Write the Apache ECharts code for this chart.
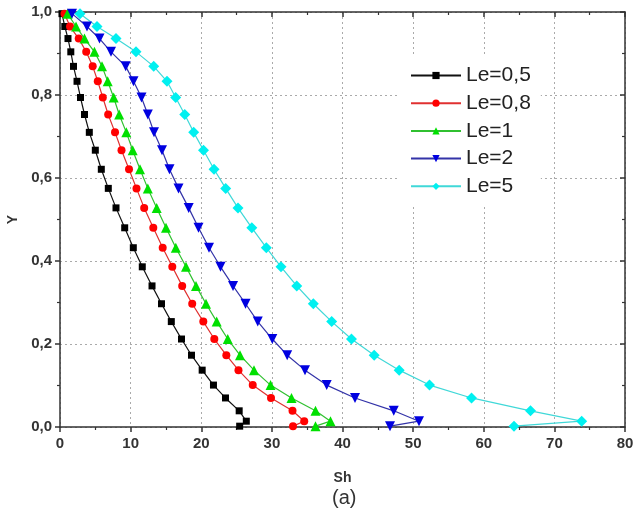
<!DOCTYPE html>
<html>
<head>
<meta charset="utf-8">
<script src="https://cdn.jsdelivr.net/npm/echarts@6/dist/echarts.min.js"></script>
<style>
  html,body{margin:0;padding:0;background:#fff;}
  #chart{width:634px;height:519px;}
</style>
</head>
<body>
<div id="chart"></div>
<script>
// Y positions shared by every curve
const yLevels = [0.996, 0.965, 0.936, 0.904, 0.869, 0.833, 0.794, 0.753, 0.710, 0.667,
  0.621, 0.575, 0.528, 0.480, 0.432, 0.386, 0.340, 0.297, 0.254, 0.212,
  0.173, 0.137, 0.101, 0.070, 0.039, 0.014, 0.002];

// Sh values per Le
const shLe05 = [0.28, 0.68, 1.13, 1.53, 1.91, 2.41, 2.90, 3.47, 4.15, 5.00,
  5.85, 6.84, 7.93, 9.16, 10.38, 11.65, 13.03, 14.37, 15.76, 17.20,
  18.62, 20.13, 21.73, 23.43, 25.37, 26.38, 25.44];
const shLe08 = [0.64, 1.42, 2.65, 3.71, 4.63, 5.35, 6.06, 6.82, 7.79, 8.71,
  9.77, 10.83, 11.92, 13.21, 14.54, 15.90, 17.30, 18.72, 20.29, 21.85,
  23.55, 25.27, 27.29, 29.88, 32.92, 34.58, 32.99];
const shLe1 = [1.06, 2.27, 3.47, 4.88, 5.95, 6.75, 7.60, 8.38, 9.39, 10.29,
  11.33, 12.43, 13.69, 15.01, 16.40, 17.84, 19.26, 20.67, 22.19, 23.75,
  25.49, 27.47, 29.81, 32.78, 36.18, 38.30, 36.18];
const shLe2 = [1.70, 3.82, 5.59, 7.22, 9.30, 10.41, 11.54, 12.43, 13.31, 14.44,
  15.50, 16.78, 18.22, 19.61, 21.10, 22.73, 24.50, 26.27, 28.00, 30.06,
  32.17, 34.69, 37.76, 41.77, 47.26, 50.83, 46.73];
const shLe5 = [2.83, 5.24, 7.93, 10.76, 13.27, 15.15, 16.38, 17.66, 18.93, 20.32,
  21.81, 23.46, 25.20, 27.16, 29.21, 31.29, 33.52, 35.87, 38.47, 41.27,
  44.49, 48.03, 52.32, 58.27, 66.62, 73.87, 64.28];

const seriesNames = ['Le=0,5', 'Le=0,8', 'Le=1', 'Le=2', 'Le=5'];
const xTicks = [0, 10, 20, 30, 40, 50, 60, 70, 80];

function pairs(xs){
  var out = [];
  for (var i = 0; i < xs.length; i++) {
    out.push([xs[i], yLevels[i]]);
  }
  return out;
}

function makeSeries(name, xs, symbol, size, markColor, lineColor, rotate){
  return {
    name: name,
    type: 'line',
    data: pairs(xs),
    symbol: symbol,
    symbolSize: size,
    symbolRotate: rotate || 0,
    showAllSymbol: true,
    clip: false,
    itemStyle: { color: markColor, borderWidth: 0 },
    lineStyle: { color: lineColor, width: 1.2 },
    emphasis: { disabled: true }
  };
}

const chart = echarts.init(document.getElementById('chart'), null, { renderer: 'canvas' });

const tickFont = { color: '#333', fontWeight: 'bold', fontSize: 15, fontFamily: 'Liberation Sans, Arial, sans-serif' };
const axisLine = { show: true, onZero: false, lineStyle: { color: '#333', width: 1.5 } };
const gridLine = { show: true, lineStyle: { color: '#aaa', width: 1, type: [2, 3] } };

const option = {
  backgroundColor: '#fff',
  animation: false,
  grid: { left: 60, right: 9, top: 12, bottom: 92, containLabel: false, outerBoundsMode: 'none' },
  title: {
    text: '(a)',
    left: 327,
    top: 483,
    textStyle: { fontSize: 20, fontWeight: 'normal', color: '#333', fontFamily: 'Liberation Sans, Arial, sans-serif' }
  },
  legend: {
    orient: 'vertical',
    left: 400,
    top: 55,
    padding: [10, 10, 10, 10],
    backgroundColor: '#fff',
    itemWidth: 50,
    itemHeight: 9,
    itemGap: 6.7,
    data: seriesNames,
    textStyle: { fontSize: 21, lineHeight: 21, color: '#222', fontFamily: 'Liberation Sans, Arial, sans-serif' }
  },
  xAxis: [
    {
      type: 'value', position: 'bottom', min: 0, max: 80, interval: 10,
      name: 'Sh', nameLocation: 'middle', nameGap: 44,
      nameTextStyle: { fontSize: 14, fontWeight: 'bold', color: '#333', fontFamily: 'Liberation Sans, Arial, sans-serif' },
      axisLine: axisLine,
      axisTick: { show: true, inside: false, length: 5, lineStyle: { color: '#333', width: 1.5 } },
      minorTick: { show: true, splitNumber: 2, length: 3, lineStyle: { color: '#333', width: 1.2 } },
      axisLabel: Object.assign({ margin: 9, formatter: function(v){ return xTicks.indexOf(v) >= 0 ? String(v) : ''; } }, tickFont),
      splitLine: gridLine
    },
    {
      type: 'value', position: 'top', min: 0, max: 80, interval: 10,
      axisLine: axisLine,
      axisTick: { show: true, inside: true, length: 5, lineStyle: { color: '#333', width: 1.5 } },
      minorTick: { show: true, splitNumber: 2, length: 3, lineStyle: { color: '#333', width: 1.2 } },
      axisLabel: { show: false },
      splitLine: { show: false }
    }
  ],
  yAxis: [
    {
      type: 'value', position: 'left', min: 0, max: 1, interval: 0.2,
      name: 'Y', nameLocation: 'middle', nameGap: 40,
      nameTextStyle: { fontSize: 14, fontWeight: 'bold', color: '#333', fontFamily: 'Liberation Sans, Arial, sans-serif' },
      axisLine: axisLine,
      axisTick: { show: true, inside: false, length: 5, lineStyle: { color: '#333', width: 1.5 } },
      minorTick: { show: true, splitNumber: 2, length: 3, lineStyle: { color: '#333', width: 1.2 } },
      axisLabel: Object.assign({ margin: 8, formatter: function(v){ return v.toFixed(1).replace('.', ','); } }, tickFont),
      splitLine: gridLine
    },
    {
      type: 'value', position: 'right', min: 0, max: 1, interval: 0.2,
      axisLine: axisLine,
      axisTick: { show: true, inside: true, length: 5, lineStyle: { color: '#333', width: 1.5 } },
      minorTick: { show: true, splitNumber: 2, length: 3, lineStyle: { color: '#333', width: 1.2 } },
      axisLabel: { show: false },
      splitLine: { show: false }
    }
  ],
  series: [
    makeSeries(seriesNames[0], shLe05, 'rect', 7, '#000000', '#111111'),
    makeSeries(seriesNames[1], shLe08, 'circle', 8, '#ff0000', '#e03030'),
    makeSeries(seriesNames[2], shLe1, 'triangle', 10, '#00e000', '#30c030'),
    makeSeries(seriesNames[3], shLe2, 'triangle', 10, '#0000e0', '#3333a8', 180),
    makeSeries(seriesNames[4], shLe5, 'diamond', 11, '#00f0f0', '#40d8d8')
  ]
};

chart.setOption(option);
</script>
</body>
</html>
